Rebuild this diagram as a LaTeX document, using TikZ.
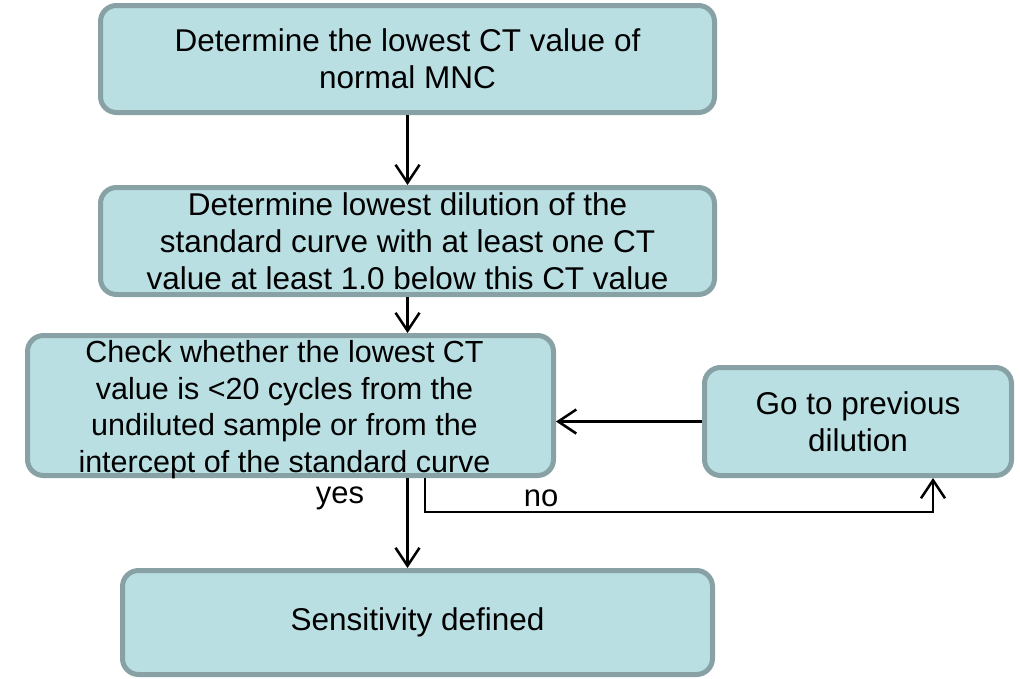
\documentclass[tikz,border=0pt]{standalone}
\usepackage{fontspec}
\setmainfont{Liberation Sans}
\usetikzlibrary{arrows.meta}
\definecolor{boxfill}{HTML}{B9DFE3}
\definecolor{boxline}{HTML}{87A1A4}
\begin{document}
\begin{tikzpicture}[x=1pt,y=-1pt,
 box/.style={draw=boxline, fill=boxfill, line width=5pt, rounded corners=16pt, align=center,
   font=\fontsize{31.5}{37}\selectfont, inner sep=0pt},
 arr/.style={-{Straight Barb[length=18pt,width=24pt,line width=2.5pt]}, line width=2.5pt},
 lbl/.style={font=\fontsize{31}{37}\selectfont, inner sep=0pt}]
\useasboundingbox (0,0) rectangle (1020,678);
\node[box, minimum width=614pt, minimum height=107pt] (b1) at (407.5,59)
  {Determine the lowest CT value of\\normal MNC};
\node[box, minimum width=614pt, minimum height=107pt] (b2) at (407.5,241)
  {Determine lowest dilution of the\\standard curve with at least one CT\\value at least 1.0 below this CT value};
\node[box, minimum width=526pt, minimum height=140pt] (b3) at (290.5,405.5) {};
\node[align=center, inner sep=0pt, font=\fontsize{30.5}{36.7}\selectfont] (b3text) at ([xshift=-6pt,yshift=-4pt]b3.center)
  {Check whether the lowest CT\\value is <20 cycles from the\\undiluted sample or from the\\intercept of the standard curve};
\node[box, minimum width=307pt, minimum height=108pt] (b4) at (858,421.5)
  {Go to previous\\dilution};
\node[box, minimum width=590pt, minimum height=104pt] (b5) at (417.5,622.5)
  {Sensitivity defined};
\coordinate (nocorner) at (933,512);
\draw[arr] (b1.south) -- (b2.north);
\draw[arr] (b2.south) -- (b2.south |- b3.north);
\draw[arr] (b1.south |- b3.south) -- (b1.south |- b5.north);
\draw[arr] ([xshift=134.5pt]b3.south) |- (nocorner) -- (b4.south -| nocorner);
\draw[arr] (b4.west) -- (b4.west -| b3.east);
\node[lbl] (yes) at (340,498) {yes};
\node[lbl] (no) at (541,498) {no};
\end{tikzpicture}
\end{document}
